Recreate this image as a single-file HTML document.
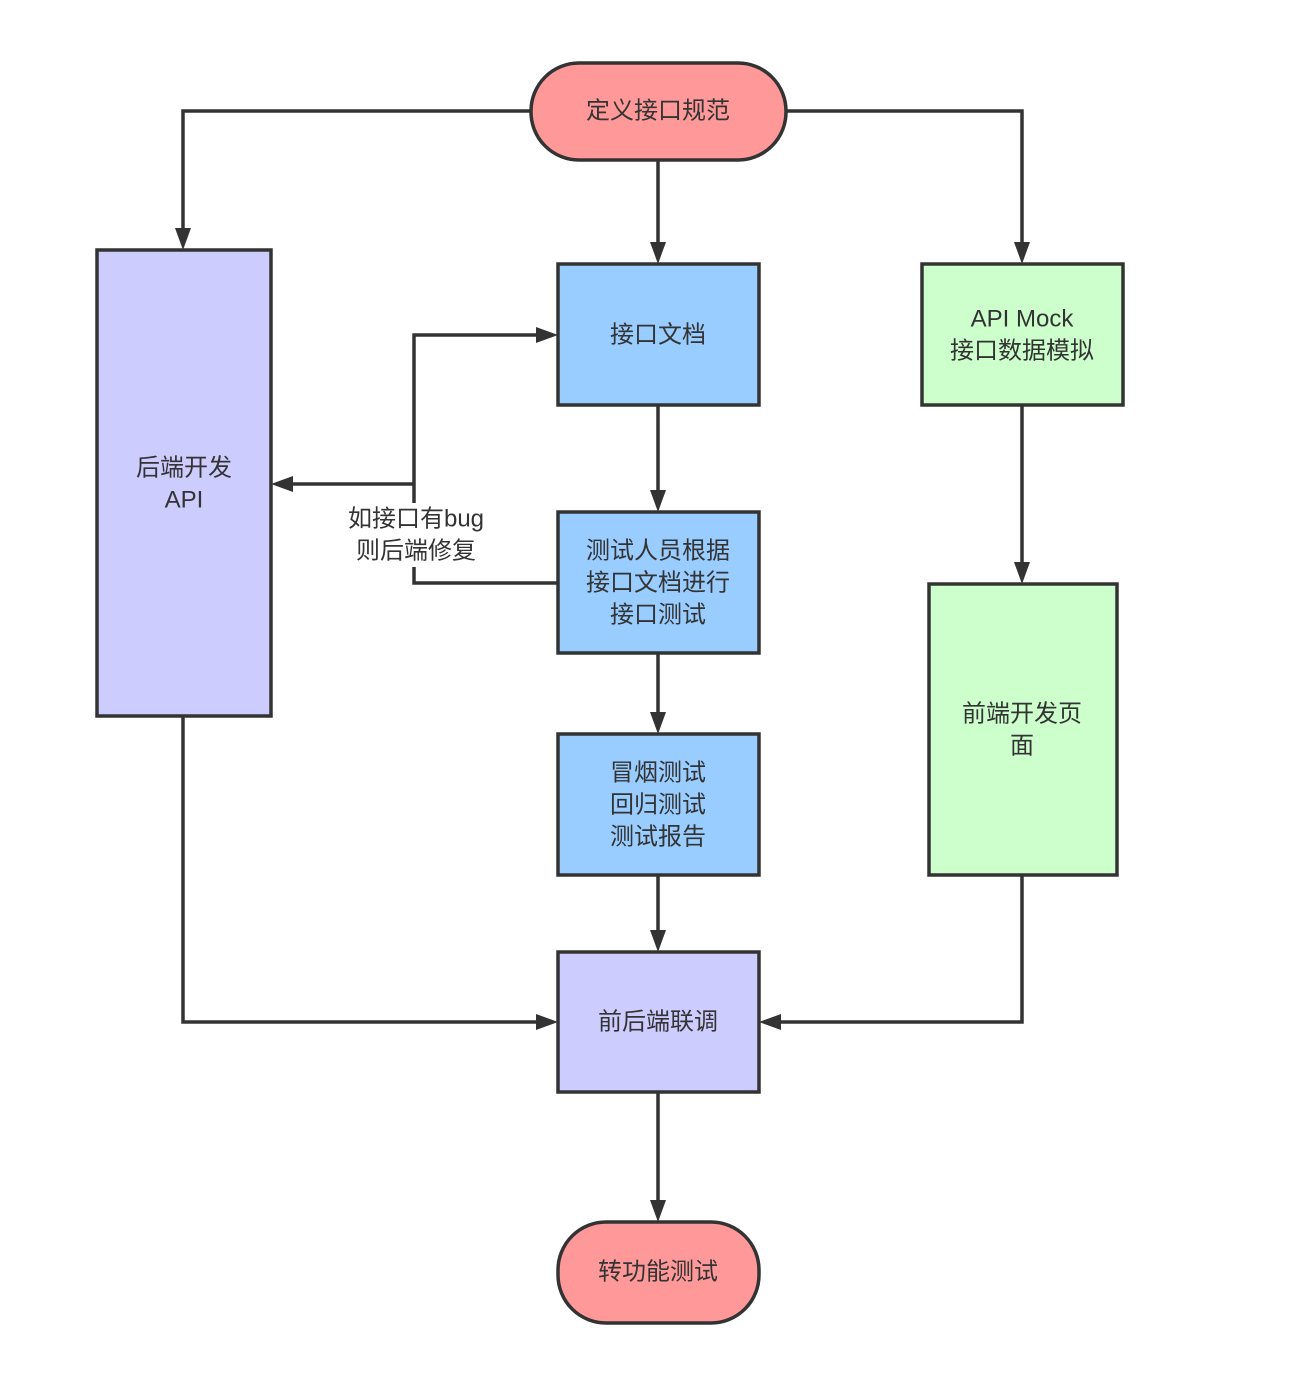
<!DOCTYPE html>
<html><head><meta charset="utf-8"><style>
html,body{margin:0;padding:0;background:#fff;}
svg{display:block;}
text{font-family:"Liberation Sans","Noto Sans CJK SC",sans-serif;font-size:24px;fill:#333;text-anchor:middle;dominant-baseline:central;}
</style></head><body>
<svg width="1302" height="1373" viewBox="0 0 1302 1373" xmlns="http://www.w3.org/2000/svg">
<defs>
<marker id="a" markerWidth="10" markerHeight="10" refX="9" refY="5" orient="auto" markerUnits="userSpaceOnUse" viewBox="0 0 10 10">
</marker>
</defs>
<g fill="none" stroke="#333" stroke-width="3.5">
<polyline points="531,111 183,111 183,230"/>
<line x1="658" y1="160" x2="658" y2="244"/>
<polyline points="786,111 1022,111 1022,244"/>
<line x1="658" y1="405" x2="658" y2="492"/>
<line x1="658" y1="653" x2="658" y2="714"/>
<line x1="658" y1="875" x2="658" y2="932"/>
<line x1="658" y1="1092" x2="658" y2="1202"/>
<line x1="1022" y1="405" x2="1022" y2="564"/>
<polyline points="1022,875 1022,1022 779,1022"/>
<polyline points="183,716 183,1022 538,1022"/>
<polyline points="558,583 414,583 414,335 538,335"/>
<line x1="414" y1="484" x2="291" y2="484"/>
</g>
<g fill="#333">
<polygon points="183,250 175,228 191,228"/>
<polygon points="658,264 650,242 666,242"/>
<polygon points="1022,264 1014,242 1030,242"/>
<polygon points="658,512 650,490 666,490"/>
<polygon points="658,734 650,712 666,712"/>
<polygon points="658,952 650,930 666,930"/>
<polygon points="658,1222 650,1200 666,1200"/>
<polygon points="1022,584 1014,562 1030,562"/>
<polygon points="759,1022 781,1014 781,1030"/>
<polygon points="558,1022 536,1014 536,1030"/>
<polygon points="558,335 536,327 536,343"/>
<polygon points="271,484 293,476 293,492"/>
</g>
<rect x="340" y="503" width="152" height="64" fill="#fff"/>
<text x="416" y="519">如接口有bug</text>
<text x="416" y="551">则后端修复</text>
<g stroke="#333" stroke-width="3.5">
<rect x="531" y="63" width="255" height="97" rx="48" fill="#FF9999"/>
<rect x="97" y="250" width="174" height="466" fill="#CCCCFF"/>
<rect x="558" y="264" width="201" height="141" fill="#99CCFF"/>
<rect x="558" y="512" width="201" height="141" fill="#99CCFF"/>
<rect x="558" y="734" width="201" height="141" fill="#99CCFF"/>
<rect x="558" y="952" width="201" height="140" fill="#CCCCFF"/>
<rect x="558" y="1222" width="201" height="101" rx="48" fill="#FF9999"/>
<rect x="922" y="264" width="201" height="141" fill="#CCFFCC"/>
<rect x="929" y="584" width="188" height="291" fill="#CCFFCC"/>
</g>
<text x="658" y="111">定义接口规范</text>
<text x="184" y="468">后端开发</text>
<text x="184" y="500">API</text>
<text x="658" y="335">接口文档</text>
<text x="658" y="551">测试人员根据</text>
<text x="658" y="583">接口文档进行</text>
<text x="658" y="615">接口测试</text>
<text x="658" y="773">冒烟测试</text>
<text x="658" y="805">回归测试</text>
<text x="658" y="837">测试报告</text>
<text x="658" y="1022">前后端联调</text>
<text x="658" y="1272">转功能测试</text>
<text x="1022" y="319">API Mock</text>
<text x="1022" y="351">接口数据模拟</text>
<text x="1022" y="714">前端开发页</text>
<text x="1022" y="746">面</text>
</svg>
</body></html>
